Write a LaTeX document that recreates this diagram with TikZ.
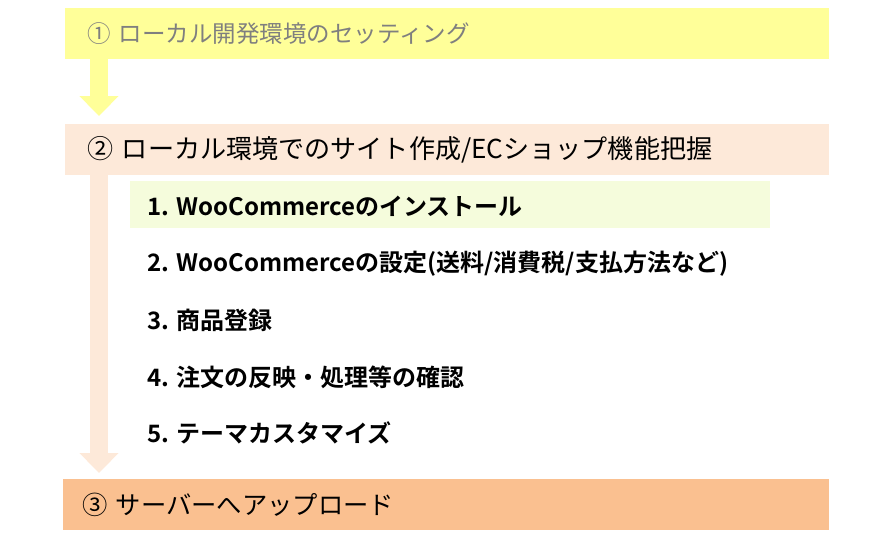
\documentclass[tikz,border=0pt]{standalone}
\usepackage{fontspec}
\setmainfont{Noto Sans CJK JP}[BoldFont={Noto Sans CJK JP Bold}]
\usetikzlibrary{arrows.meta}
\definecolor{baryellow}{RGB}{255,255,153}
\definecolor{barpeach}{RGB}{253,233,217}
\definecolor{barorange}{RGB}{250,192,144}
\definecolor{boxgreen}{RGB}{245,252,220}
\definecolor{graytext}{RGB}{127,127,127}
\tikzset{
  bar/.style={anchor=north west, minimum width=764pt, minimum height=51pt,
    text width=720pt, inner xsep=22pt, inner ysep=0pt, align=left},
  item/.style={anchor=west, inner sep=0pt, font=\fontsize{24pt}{28pt}\selectfont\bfseries},
  blockarrow/.style={line width=18pt, -{Triangle[width=38pt,length=20pt]}},
}
\begin{document}
\begin{tikzpicture}[x=1pt,y=-1pt]
\useasboundingbox (0,0) rectangle (881,539);
\node[bar, fill=baryellow, text=graytext, font=\fontsize{23.5pt}{28pt}\selectfont] (s1) at (65,8) {① ローカル開発環境のセッティング};
\node[bar, fill=barpeach, font=\fontsize{26.1pt}{30pt}\selectfont] (s2) at (65,124) {② ローカル環境でのサイト作成/ECショップ機能把握};
\node[bar, fill=barorange, minimum width=766pt, text width=728pt, inner xsep=19pt, font=\fontsize{25.3pt}{30pt}\selectfont] (s3) at (63,479) {③ サーバーへアップロード};
\node[anchor=north west, fill=boxgreen, minimum width=640pt, minimum height=47pt, inner sep=0pt] (g1) at (130,181) {};
\node[item] (i1) at (147,206) {1. WooCommerceのインストール};
\node[item] (i2) at (147,263.5) {2. WooCommerceの設定(送料/消費税/支払方法など)};
\node[item] (i3) at (147,320.5) {3. 商品登録};
\node[item] (i4) at (147,377) {4. 注文の反映・処理等の確認};
\node[item] (i5) at (147,432.5) {5. テーマカスタマイズ};
\coordinate (a1s) at (99,59);
\coordinate (a1e) at (99,116);
\coordinate (a2s) at (99,175);
\coordinate (a2e) at (99,473);
\draw[blockarrow, baryellow] (a1s) -- (a1e);
\draw[blockarrow, barpeach] (a2s) -- (a2e);
\end{tikzpicture}
\end{document}
